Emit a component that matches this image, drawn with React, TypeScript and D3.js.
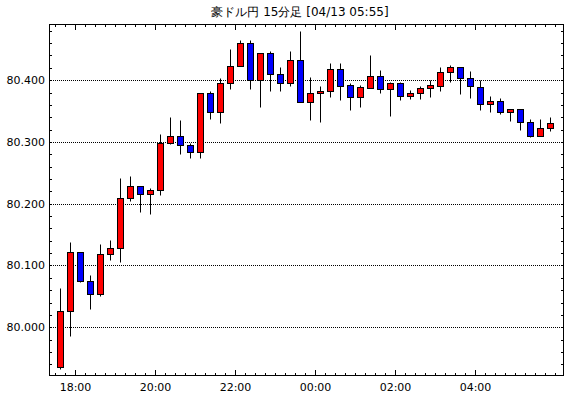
import React from 'react';
import * as d3 from 'd3';

const title = '豪ドル円 15分足 [04/13 05:55]';

// 15分足の開始時刻
const times = [
  '17:30', '17:45', '18:00', '18:15', '18:30', '18:45', '19:00', '19:15', '19:30', '19:45',
  '20:00', '20:15', '20:30', '20:45', '21:00', '21:15', '21:30', '21:45', '22:00', '22:15',
  '22:30', '22:45', '23:00', '23:15', '23:30', '23:45', '00:00', '00:15', '00:30', '00:45',
  '01:00', '01:15', '01:30', '01:45', '02:00', '02:15', '02:30', '02:45', '03:00', '03:15',
  '03:30', '03:45', '04:00', '04:15', '04:30', '04:45', '05:00', '05:15', '05:30', '05:45'
];

const opens = [
  79.936, 80.027, 80.121, 80.075, 80.054, 80.119, 80.129, 80.210, 80.228, 80.215,
  80.222, 80.299, 80.309, 80.295, 80.284, 80.380, 80.349, 80.395, 80.423, 80.460,
  80.400, 80.444, 80.410, 80.396, 80.432, 80.364, 80.379, 80.382, 80.418, 80.392,
  80.372, 80.388, 80.406, 80.385, 80.396, 80.375, 80.380, 80.387, 80.391, 80.413,
  80.421, 80.403, 80.389, 80.361, 80.366, 80.348, 80.353, 80.332, 80.310, 80.322
];
const highs = [
  80.064, 80.138, 80.121, 80.084, 80.135, 80.142, 80.242, 80.245, 80.228, 80.226,
  80.313, 80.340, 80.335, 80.298, 80.380, 80.382, 80.403, 80.451, 80.465, 80.465,
  80.444, 80.447, 80.421, 80.447, 80.480, 80.405, 80.391, 80.428, 80.428, 80.395,
  80.393, 80.440, 80.416, 80.397, 80.397, 80.384, 80.390, 80.400, 80.421, 80.424,
  80.421, 80.415, 80.400, 80.374, 80.371, 80.353, 80.353, 80.337, 80.337, 80.340
];
const lows = [
  79.932, 79.986, 80.073, 80.029, 80.051, 80.109, 80.106, 80.204, 80.187, 80.183,
  80.214, 80.296, 80.281, 80.274, 80.274, 80.337, 80.331, 80.386, 80.423, 80.385,
  80.356, 80.383, 80.383, 80.390, 80.364, 80.336, 80.333, 80.372, 80.368, 80.351,
  80.356, 80.388, 80.379, 80.342, 80.368, 80.370, 80.370, 80.373, 80.383, 80.397,
  80.378, 80.371, 80.352, 80.348, 80.346, 80.334, 80.320, 80.308, 80.310, 80.317
];
const closes = [
  80.027, 80.121, 80.075, 80.054, 80.119, 80.129, 80.210, 80.228, 80.215, 80.222,
  80.299, 80.309, 80.295, 80.284, 80.380, 80.349, 80.395, 80.423, 80.460, 80.400,
  80.444, 80.410, 80.396, 80.432, 80.364, 80.379, 80.382, 80.418, 80.391, 80.372,
  80.389, 80.406, 80.385, 80.396, 80.375, 80.380, 80.387, 80.392, 80.413, 80.421,
  80.403, 80.390, 80.361, 80.367, 80.348, 80.353, 80.332, 80.310, 80.322, 80.331
];

const yLabels = ['80.000', '80.100', '80.200', '80.300', '80.400'];

const width = 570;
const height = 398;
const margin = { top: 24, right: 6, bottom: 22, left: 49 };

const parseTime = (s: string) => {
  const [h, m] = s.split(':').map(Number);
  const day = h < 12 ? 13 : 12;
  return new Date(2012, 3, day, h, m);
};

const App = () => {
  const start = parseTime(times[0]);
  const last = parseTime(times[times.length - 1]);
  const x = d3.scaleTime()
    .domain([d3.timeMinute.offset(start, -9), d3.timeMinute.offset(last, 28.5)])
    .range([margin.left, width - margin.right]);
  const y = d3.scaleLinear()
    .domain([79.921, 80.491])
    .range([height - margin.bottom, margin.top]);

  const px = (v: number) => Math.round(v) + 0.5;
  const L = margin.left, R = width - margin.right;
  const T = margin.top, B = height - margin.bottom;

  const [t0, t1] = x.domain();
  const minorX = d3.timeMinute.every(15)!.range(t0, t1);
  // 最後の足より後ろには目盛ラベルを出さない
  const majorX = d3.timeHour.every(2)!.range(t0, t1).filter(t => t <= last);
  const fmt = d3.timeFormat('%H:%M');

  const [y0, y1] = y.domain();
  const minorY = d3.range(Math.ceil(y0 / 0.02), Math.floor(y1 / 0.02) + 1).map(k => k * 0.02);
  const gridY = yLabels.map(Number);

  const candles = times.map((t, i) => ({
    t: parseTime(t),
    o: opens[i], h: highs[i], l: lows[i], c: closes[i]
  }));

  const font = '"DejaVu Sans", sans-serif';

  return (
    <svg width={width} height={height} style={{ position: 'absolute', left: 0, top: 0, background: '#fff' }}>
      <text x={300} y={16} textAnchor="middle" fontFamily={font} fontSize={12} fill="#000">{title}</text>

      {gridY.map(v => (
        <line key={v} x1={L} x2={R} y1={px(y(v))} y2={px(y(v))} stroke="#000" strokeDasharray="1,1" />
      ))}

      {candles.map((d, i) => {
        const cx = px(x(d3.timeMinute.offset(d.t, 7.5)));
        const top = px(y(Math.max(d.o, d.c)));
        const bot = px(y(Math.min(d.o, d.c)));
        const up = d.c >= d.o;
        return (
          <g key={i}>
            <line x1={cx} x2={cx} y1={px(y(d.h))} y2={px(y(d.l))} stroke="#000" />
            <rect x={cx - 3} y={top} width={6} height={Math.max(bot - top, 1)}
              fill={up ? '#ff0000' : '#0000ff'} stroke="#000" strokeWidth={1} />
          </g>
        );
      })}

      <rect x={L + 0.5} y={T + 0.5} width={R - L - 1} height={B - T - 1} fill="none" stroke="#000" />

      {minorX.map((t, i) => {
        const xx = px(x(t));
        return (
          <g key={'mx' + i}>
            <line x1={xx} x2={xx} y1={T} y2={T + 3} stroke="#000" />
            <line x1={xx} x2={xx} y1={B} y2={B - 3} stroke="#000" />
          </g>
        );
      })}
      {majorX.map((t, i) => {
        const xx = px(x(t));
        return (
          <g key={'Mx' + i}>
            <line x1={xx} x2={xx} y1={T} y2={T + 6} stroke="#000" />
            <line x1={xx} x2={xx} y1={B} y2={B - 6} stroke="#000" />
            <text x={xx} y={B + 15} textAnchor="middle" fontFamily={font} fontSize={11} fill="#000">{fmt(t)}</text>
          </g>
        );
      })}

      {minorY.map((v, i) => {
        const yy = px(y(v));
        return (
          <g key={'my' + i}>
            <line x1={L} x2={L + 3} y1={yy} y2={yy} stroke="#000" />
            <line x1={R} x2={R - 3} y1={yy} y2={yy} stroke="#000" />
          </g>
        );
      })}
      {yLabels.map(s => (
        <text key={s} x={L - 4} y={y(Number(s))} dy="0.35em" textAnchor="end" fontFamily={font} fontSize={11} fill="#000">{s}</text>
      ))}
    </svg>
  );
};

export default App;
